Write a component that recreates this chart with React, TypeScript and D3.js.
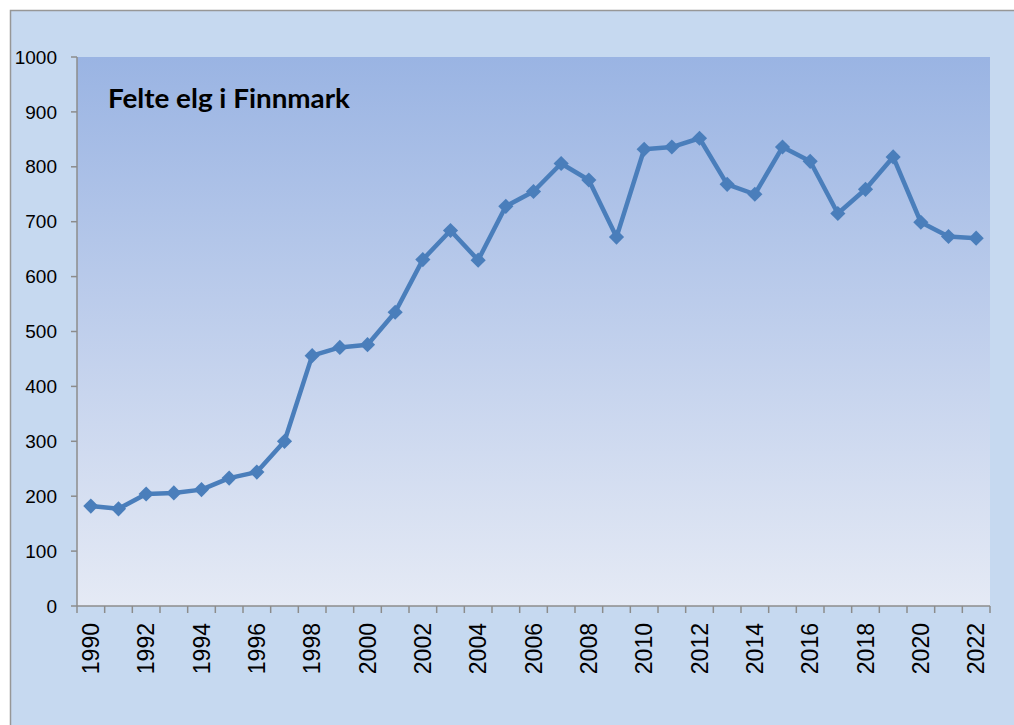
import * as d3 from "d3"

const years = d3.range(1990, 2023).map(String)
const felte = [
  182, 177, 204, 206, 212, 233, 244, 300, 456, 471, 476, 535, 631, 684, 630,
  728, 755, 806, 776, 672, 832, 836, 852, 768, 750, 836, 810, 715, 759, 818,
  699, 673, 670,
]
const yTicks = d3.range(0, 1001, 100)
const title = "Felte elg i Finnmark"

const W = 1014
const H = 725
const plot = { left: 77, right: 990, top: 57, bottom: 606 }

export default function App() {
  const x = d3.scaleBand<string>().domain(years).range([plot.left, plot.right])
  const y = d3.scaleLinear().domain([0, 1000]).range([plot.bottom, plot.top])
  const cx = (i: number) => x(years[i])! + x.bandwidth() / 2

  const line = d3
    .line<number>()
    .x((_, i) => cx(i))
    .y((v) => y(v))

  // rotated square, like Excel's diamond marker
  const marker = d3.symbol(d3.symbolSquare, 115)()!

  return (
    <svg
      width={W}
      height={H}
      style={{ position: "absolute", left: 0, top: 0 }}
      fontFamily="Liberation Sans, Arial, sans-serif"
    >
      <defs>
        <linearGradient id="bg" x1="0" y1="0" x2="0" y2="1">
          <stop offset="0" stopColor="#9ab4e3" />
          <stop offset="1" stopColor="#e5eaf5" />
        </linearGradient>
      </defs>
      <rect x={0} y={0} width={W} height={H} fill="#ffffff" />
      <rect
        x={10.5}
        y={10.5}
        width={W + 10}
        height={H + 10}
        fill="#c6d9f0"
        stroke="#979797"
        strokeWidth={1.5}
      />
      <rect
        x={plot.left}
        y={plot.top}
        width={plot.right - plot.left}
        height={plot.bottom - plot.top}
        fill="url(#bg)"
      />

      {/* y axis */}
      <line x1={plot.left} x2={plot.left} y1={plot.top} y2={plot.bottom} stroke="#8c8c8c" strokeWidth={1.5} />
      {yTicks.map((t) => (
        <g key={t}>
          <line x1={plot.left - 6} x2={plot.left} y1={y(t)} y2={y(t)} stroke="#8c8c8c" strokeWidth={1.5} />
          <text x={plot.left - 20} y={y(t)} dy="0.35em" textAnchor="end" fontSize={19}>
            {t}
          </text>
        </g>
      ))}

      {/* x axis */}
      <line x1={plot.left} x2={plot.right} y1={plot.bottom} y2={plot.bottom} stroke="#8c8c8c" strokeWidth={1.5} />
      {years.concat([""]).map((_, i) => {
        const px = plot.left + i * x.bandwidth()
        return <line key={i} x1={px} x2={px} y1={plot.bottom} y2={plot.bottom + 7} stroke="#8c8c8c" strokeWidth={1.5} />
      })}
      {years
        .map((yr, i) => ({ yr, i }))
        .filter((d) => d.i % 2 === 0)
        .map((d) => (
          <text
            key={d.yr}
            transform={`translate(${cx(d.i)},${plot.bottom + 17}) rotate(-90)`}
            dy="0.36em"
            textAnchor="end"
            fontSize={23}
          >
            {d.yr}
          </text>
        ))}

      <text
        x={108}
        y={108}
        fontSize={26}
        fontWeight="bold"
        fontFamily="Lato, Open Sans, sans-serif"
        textLength={242}
        lengthAdjust="spacingAndGlyphs"
      >
        {title}
      </text>

      <path d={line(felte) ?? undefined} fill="none" stroke="#4a7ebb" strokeWidth={4.5} strokeLinejoin="round" />
      <g fill="#4a7ebb">
        {felte.map((v, i) => (
          <path key={i} d={marker} transform={`translate(${cx(i)},${y(v)}) rotate(45)`} />
        ))}
      </g>
    </svg>
  )
}
